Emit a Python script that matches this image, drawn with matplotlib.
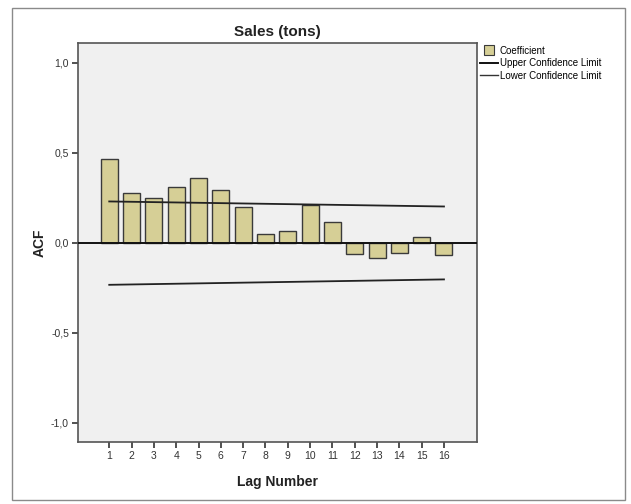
"""ACF bar chart for Sales (tons), SPSS style."""

import matplotlib
matplotlib.use('Agg')
import matplotlib.pyplot as plt
from matplotlib.patches import Rectangle
from matplotlib.lines import Line2D
from matplotlib.ticker import FuncFormatter

# -----------------------------------------------------------------------
# Data
# -----------------------------------------------------------------------
lags = list(range(1, 17))
acf = [0.463, 0.278, 0.248, 0.309, 0.361, 0.291, 0.197, 0.050,
       0.065, 0.211, 0.115, -0.063, -0.085, -0.055, 0.030, -0.065]

conf_lags = [1, 16]
upper_limit = [0.230, 0.202]
lower_limit = [-0.233, -0.203]

y_ticks = [-1.0, -0.5, 0.0, 0.5, 1.0]

title = 'Sales (tons)'
x_label = 'Lag Number'
y_label = 'ACF'

# -----------------------------------------------------------------------
# Figure
# -----------------------------------------------------------------------
plt.rcParams['font.family'] = ['Liberation Sans', 'DejaVu Sans']

fig = plt.figure(figsize=(6.31, 5.04), dpi=100)
ax = fig.add_axes([78 / 631, 62 / 504, 399 / 631, 399 / 504])
ax.set_facecolor('#f0f0f0')

bar_color = '#d6cf96'
ax.bar(lags, acf, width=0.76, color=bar_color, edgecolor='#3a3a3a',
       linewidth=1.0, zorder=2)
ax.axhline(0, color='#111111', linewidth=1.4, zorder=3)
ax.plot(conf_lags, upper_limit, color='#222222', linewidth=1.3, zorder=3)
ax.plot(conf_lags, lower_limit, color='#222222', linewidth=1.3, zorder=3)

ax.set_xlim(-0.4, 17.48)
ax.set_ylim(-1.106, 1.11)
ax.set_xticks(lags)
ax.set_yticks(y_ticks)
ax.yaxis.set_major_formatter(
    FuncFormatter(lambda v, _: f'{v:.1f}'.replace('.', ',').replace('-0,0', '0,0')))

ax.tick_params(axis='both', direction='out', length=4.5, width=1.2,
               color='#333333', labelsize=7.5, labelcolor='#333333', pad=2)

for spine in ax.spines.values():
    spine.set_color('#555555')
    spine.set_linewidth(1.2)

ax.set_title(title, fontsize=11, fontweight='bold', color='#222222', pad=5)
ax.set_xlabel(x_label, fontsize=10, fontweight='bold', color='#222222',
              labelpad=10)
ax.set_ylabel(y_label, fontsize=10, fontweight='bold', color='#222222',
              labelpad=3)

handles = [
    Line2D([], [], marker='s', linestyle='none', markersize=7,
           markerfacecolor=bar_color, markeredgecolor='#3a3a3a',
           markeredgewidth=0.8),
    Line2D([], [], color='#111111', linewidth=1.4),
    Line2D([], [], color='#333333', linewidth=1.0),
]
labels = ['Coefficient', 'Upper Confidence Limit', 'Lower Confidence Limit']
ax.legend(handles, labels, loc='upper left', bbox_to_anchor=(1.0, 1.0),
          frameon=False, fontsize=7, handlelength=1.9, handleheight=0.9,
          handletextpad=0.15, labelspacing=0.25, borderaxespad=0.0,
          borderpad=0.3)

# Outer frame round the whole chart
fig.patches.append(Rectangle((12 / 631, 4 / 504), 613 / 631, 492 / 504,
                             transform=fig.transFigure, fill=False,
                             edgecolor='#8a8a8a', linewidth=1.0))

fig.savefig('out.png', dpi=100)
